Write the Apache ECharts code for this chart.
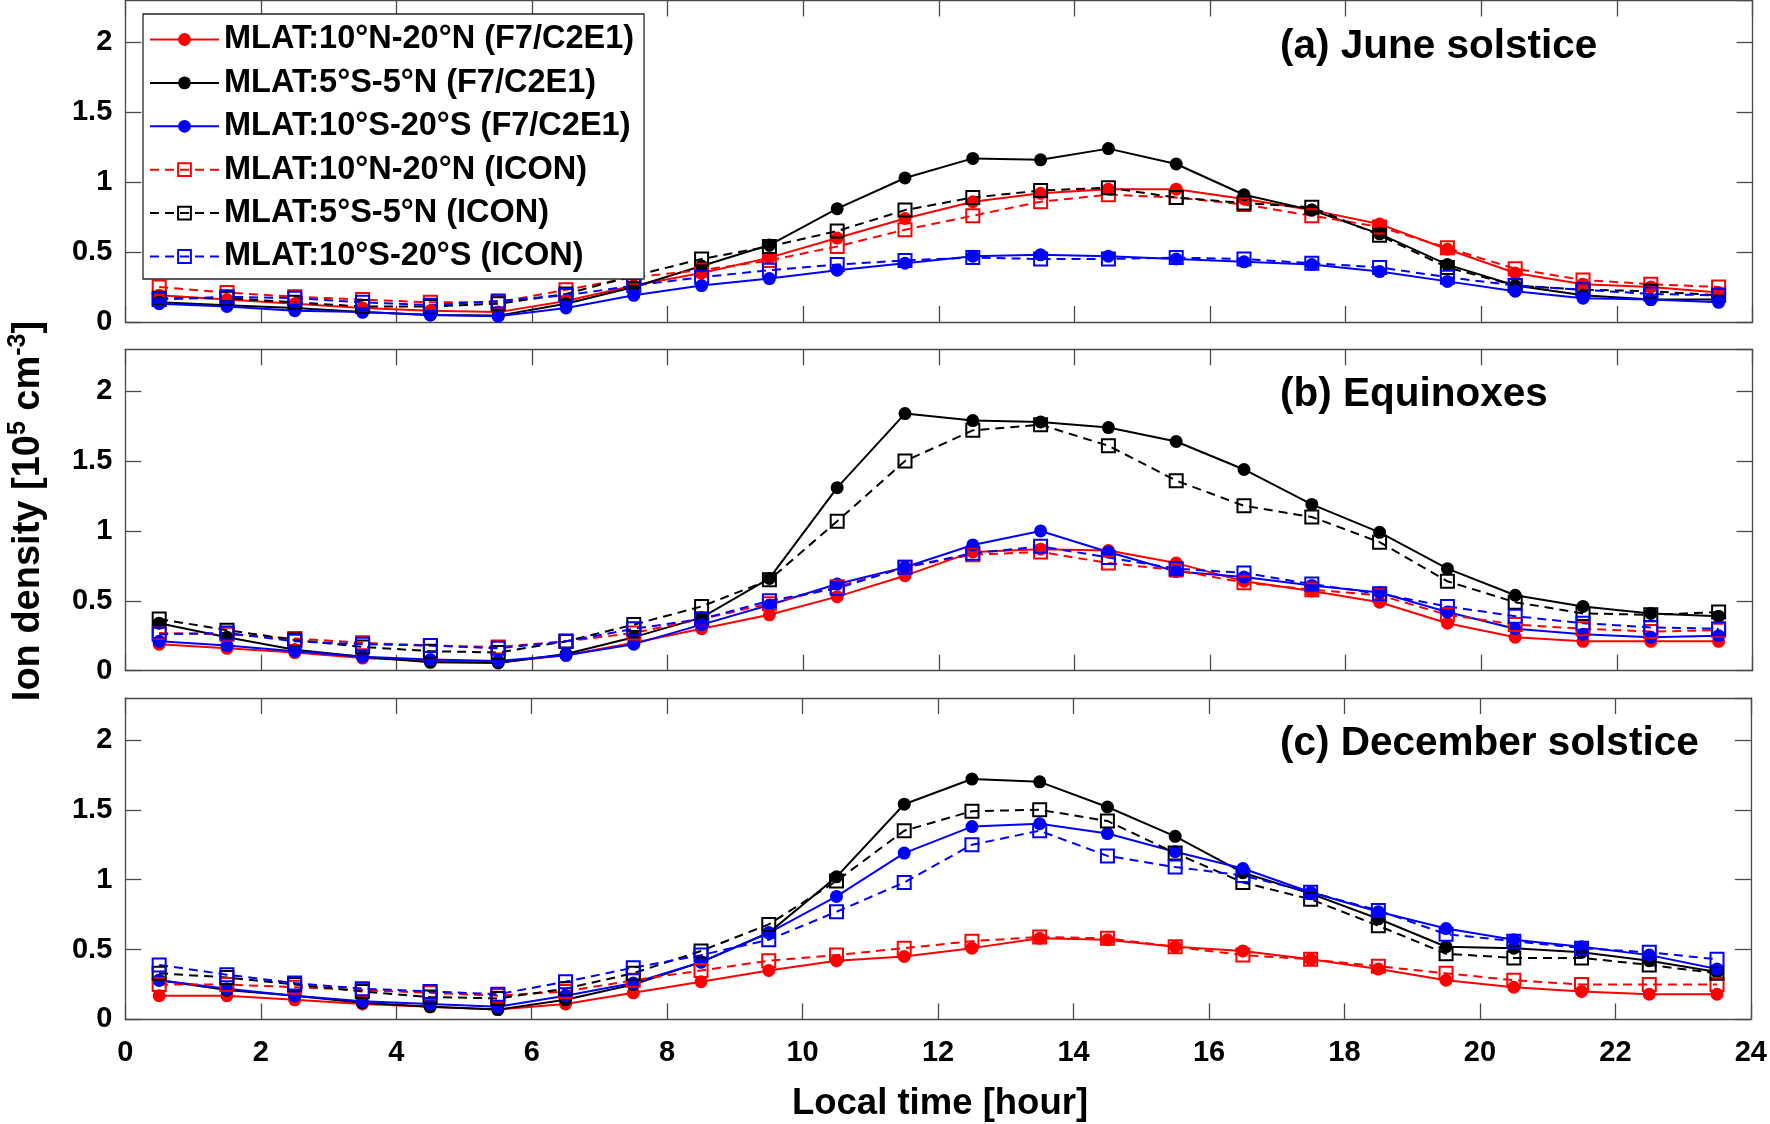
<!DOCTYPE html>
<html>
<head>
<meta charset="utf-8">
<script src="https://cdn.jsdelivr.net/npm/echarts@6/dist/echarts.min.js"></script>
<style>
html,body{margin:0;padding:0;background:#fff;}
#chart{width:1770px;height:1124px;}
</style>
</head>
<body>
<div id="chart"></div>
<script>
// ---------- data ----------
const hours = [0.5, 1.5, 2.5, 3.5, 4.5, 5.5, 6.5, 7.5, 8.5, 9.5, 10.5, 11.5,
               12.5, 13.5, 14.5, 15.5, 16.5, 17.5, 18.5, 19.5, 20.5, 21.5, 22.5, 23.5];

const seriesNames = [
  'MLAT:10°N-20°N (F7/C2E1)',
  'MLAT:5°S-5°N (F7/C2E1)',
  'MLAT:10°S-20°S (F7/C2E1)',
  'MLAT:10°N-20°N (ICON)',
  'MLAT:5°S-5°N (ICON)',
  'MLAT:10°S-20°S (ICON)'
];
const panelTitles = ['(a) June solstice', '(b) Equinoxes', '(c) December solstice'];
const xAxisTitle = 'Local time [hour]';

// (a) June solstice
const juneF7N   = [0.19, 0.16, 0.13, 0.10, 0.08, 0.07, 0.15, 0.26, 0.35, 0.46, 0.60, 0.74, 0.86, 0.92, 0.95, 0.95, 0.88, 0.80, 0.70, 0.52, 0.35, 0.27, 0.25, 0.21];
const juneF7Eq  = [0.14, 0.12, 0.10, 0.07, 0.05, 0.045, 0.13, 0.25, 0.40, 0.55, 0.81, 1.03, 1.17, 1.16, 1.24, 1.13, 0.91, 0.80, 0.63, 0.41, 0.26, 0.19, 0.16, 0.16];
const juneF7S   = [0.13, 0.11, 0.08, 0.07, 0.05, 0.04, 0.10, 0.19, 0.26, 0.31, 0.37, 0.42, 0.47, 0.48, 0.47, 0.45, 0.43, 0.41, 0.36, 0.29, 0.22, 0.17, 0.16, 0.14];
const juneIconN = [0.25, 0.21, 0.18, 0.16, 0.14, 0.14, 0.23, 0.32, 0.37, 0.44, 0.54, 0.66, 0.76, 0.86, 0.91, 0.89, 0.84, 0.76, 0.68, 0.53, 0.38, 0.30, 0.27, 0.25];
const juneIconEq= [0.17, 0.17, 0.14, 0.11, 0.11, 0.13, 0.20, 0.33, 0.45, 0.54, 0.65, 0.80, 0.89, 0.94, 0.96, 0.89, 0.85, 0.82, 0.62, 0.39, 0.26, 0.23, 0.22, 0.19];
const juneIconS = [0.16, 0.18, 0.17, 0.14, 0.12, 0.15, 0.19, 0.26, 0.32, 0.37, 0.41, 0.44, 0.46, 0.45, 0.45, 0.46, 0.45, 0.42, 0.39, 0.32, 0.26, 0.23, 0.20, 0.19];

// (b) Equinoxes
const eqF7N   = [0.19, 0.16, 0.13, 0.09, 0.07, 0.06, 0.11, 0.20, 0.30, 0.40, 0.53, 0.68, 0.85, 0.87, 0.86, 0.77, 0.64, 0.57, 0.49, 0.34, 0.24, 0.21, 0.21, 0.21];
const eqF7Eq  = [0.34, 0.24, 0.15, 0.10, 0.06, 0.055, 0.12, 0.24, 0.38, 0.66, 1.31, 1.84, 1.79, 1.78, 1.74, 1.64, 1.44, 1.19, 0.99, 0.73, 0.54, 0.46, 0.41, 0.39];
const eqF7S   = [0.21, 0.18, 0.14, 0.10, 0.08, 0.07, 0.11, 0.19, 0.33, 0.47, 0.62, 0.74, 0.90, 1.00, 0.85, 0.71, 0.67, 0.61, 0.56, 0.42, 0.30, 0.26, 0.24, 0.25];
const eqIconN = [0.27, 0.26, 0.23, 0.20, 0.18, 0.17, 0.21, 0.27, 0.37, 0.48, 0.60, 0.74, 0.83, 0.85, 0.77, 0.72, 0.63, 0.58, 0.54, 0.40, 0.33, 0.30, 0.28, 0.29];
const eqIconEq= [0.37, 0.29, 0.22, 0.17, 0.14, 0.13, 0.21, 0.33, 0.46, 0.65, 1.07, 1.50, 1.72, 1.76, 1.61, 1.36, 1.18, 1.10, 0.92, 0.64, 0.49, 0.41, 0.40, 0.42];
const eqIconS = [0.26, 0.27, 0.21, 0.19, 0.18, 0.16, 0.21, 0.30, 0.37, 0.50, 0.59, 0.74, 0.84, 0.89, 0.81, 0.73, 0.70, 0.62, 0.55, 0.46, 0.39, 0.34, 0.31, 0.30];

// (c) December solstice
const decF7N   = [0.17, 0.17, 0.14, 0.11, 0.09, 0.07, 0.11, 0.19, 0.27, 0.35, 0.42, 0.45, 0.51, 0.58, 0.57, 0.52, 0.49, 0.43, 0.36, 0.28, 0.23, 0.20, 0.18, 0.18];
const decF7Eq  = [0.28, 0.21, 0.17, 0.12, 0.09, 0.07, 0.14, 0.25, 0.41, 0.62, 1.02, 1.54, 1.72, 1.70, 1.52, 1.31, 1.05, 0.90, 0.72, 0.52, 0.51, 0.48, 0.42, 0.34];
const decF7S   = [0.28, 0.22, 0.17, 0.13, 0.11, 0.09, 0.17, 0.26, 0.41, 0.62, 0.88, 1.19, 1.38, 1.40, 1.33, 1.20, 1.08, 0.91, 0.77, 0.65, 0.57, 0.52, 0.46, 0.36];
const decIconN = [0.25, 0.25, 0.23, 0.21, 0.19, 0.17, 0.20, 0.28, 0.35, 0.42, 0.46, 0.51, 0.56, 0.59, 0.58, 0.52, 0.46, 0.43, 0.38, 0.33, 0.28, 0.25, 0.25, 0.25];
const decIconEq= [0.33, 0.30, 0.25, 0.20, 0.16, 0.15, 0.22, 0.33, 0.49, 0.68, 0.99, 1.35, 1.49, 1.50, 1.42, 1.19, 0.98, 0.86, 0.67, 0.47, 0.44, 0.44, 0.39, 0.33];
const decIconS = [0.39, 0.32, 0.26, 0.22, 0.20, 0.18, 0.27, 0.37, 0.46, 0.57, 0.77, 0.98, 1.25, 1.35, 1.17, 1.09, 1.03, 0.91, 0.78, 0.61, 0.56, 0.51, 0.48, 0.43];

// ---------- layout / style ----------
const panels = [
  [juneF7N, juneF7Eq, juneF7S, juneIconN, juneIconEq, juneIconS],
  [eqF7N, eqF7Eq, eqF7S, eqIconN, eqIconEq, eqIconS],
  [decF7N, decF7Eq, decF7S, decIconN, decIconEq, decIconS]
];
const FONT = '"Liberation Sans", Arial, Helvetica, sans-serif';
const AX = '#4a4a4a';
const colors = ['#ff0000', '#000000', '#0000ff', '#ff0000', '#000000', '#0000ff'];
const gridTops = [0.5, 349.3, 698];
const gridH = 321.4;
const gridLeft = 125.3;
const gridRight = 17.5;

const grids = gridTops.map(t => ({left: gridLeft, right: gridRight, top: t, height: gridH, containLabel: false}));

const lineAx = {show: true, onZero: false, lineStyle: {color: AX, width: 1.3}};
const tickAx = {show: true, inside: true, length: 16, lineStyle: {color: AX, width: 1.3}};
const labelStyle = {color: '#000', fontSize: 29, fontWeight: 'bold', fontFamily: FONT};

const xAxes = [];
const yAxes = [];
for (let p = 0; p < 3; p++) {
  xAxes.push({
    type: 'value', gridIndex: p, min: 0, max: 24, interval: 2, position: 'bottom',
    axisLine: lineAx, axisTick: tickAx,
    axisLabel: Object.assign({show: p === 2, margin: 19, showMinLabel: true, showMaxLabel: true}, labelStyle),
    splitLine: {show: false}
  });
  yAxes.push({
    type: 'value', gridIndex: p, min: 0, max: 2.3, interval: 0.5, position: 'left',
    axisLine: lineAx, axisTick: tickAx,
    axisLabel: Object.assign({show: true, margin: 13, showMaxLabel: false, showMinLabel: true}, labelStyle),
    splitLine: {show: false}
  });
}
for (let p = 0; p < 3; p++) {
  xAxes.push({
    type: 'value', gridIndex: p, min: 0, max: 24, interval: 2, position: 'top',
    axisLine: lineAx, axisTick: tickAx, axisLabel: {show: false}, splitLine: {show: false}
  });
  yAxes.push({
    type: 'value', gridIndex: p, min: 0, max: 2.3, interval: 0.5, position: 'right',
    axisLine: lineAx, axisTick: tickAx, axisLabel: {show: false}, splitLine: {show: false}
  });
}

const series = [];
for (let p = 0; p < 3; p++) {
  panels[p].forEach((vals, k) => {
    const dashed = k >= 3;
    series.push({
      type: 'line',
      name: seriesNames[k],
      xAxisIndex: p,
      yAxisIndex: p,
      data: hours.map((h, i) => [h, vals[i]]),
      showSymbol: true,
      symbol: dashed ? 'rect' : 'circle',
      symbolSize: 13,
      color: colors[k],
      lineStyle: {color: colors[k], width: 2, type: dashed ? [9, 6] : 'solid'},
      itemStyle: dashed
        ? {color: 'rgba(255,255,255,0)', borderColor: colors[k], borderWidth: 2}
        : {color: colors[k], borderWidth: 0},
      emphasis: {disabled: true},
      animation: false,
      z: 2
    });
  });
}

const graphics = panelTitles.map((t, i) => ({
  type: 'text', x: 1280, y: gridTops[i] + 46, z: 100,
  style: {text: t, font: 'bold 40.5px ' + FONT, fill: '#000', align: 'left', verticalAlign: 'middle'}
}));
graphics.push({
  type: 'text', x: 940, y: 1103.5, z: 100,
  style: {text: xAxisTitle, font: 'bold 36.5px ' + FONT, fill: '#000', align: 'center', verticalAlign: 'middle'}
});
graphics.push({
  type: 'text', x: 25, y: 511, rotation: Math.PI / 2, z: 100,
  style: {
    text: '{a|Ion density [10}{s|5}{a| cm}{s|-3}{a|]}',
    align: 'center', verticalAlign: 'middle',
    rich: {
      a: {fontSize: 38, fontWeight: 'bold', fontFamily: FONT, fill: '#000', lineHeight: 38, padding: [8, 0, 0, 0]},
      s: {fontSize: 25, fontWeight: 'bold', fontFamily: FONT, fill: '#000', lineHeight: 25, verticalAlign: 'top'}
    }
  }
});

const chart = echarts.init(document.getElementById('chart'), null, {renderer: 'canvas'});
chart.setOption({
  animation: false,
  backgroundColor: '#ffffff',
  grid: grids,
  xAxis: xAxes,
  yAxis: yAxes,
  legend: {
    data: seriesNames,
    orient: 'vertical',
    left: 143, top: 14,
    padding: [9, 10, 6, 6],
    itemWidth: 69, itemHeight: 16, itemGap: 10.4,
    backgroundColor: '#ffffff',
    borderColor: '#262626', borderWidth: 1.3,
    selectedMode: false,
    textStyle: {fontSize: 32.5, fontWeight: 'bold', fontFamily: FONT, color: '#000', lineHeight: 32.5},
    z: 50
  },
  series: series,
  graphic: graphics
});
</script>
</body>
</html>
